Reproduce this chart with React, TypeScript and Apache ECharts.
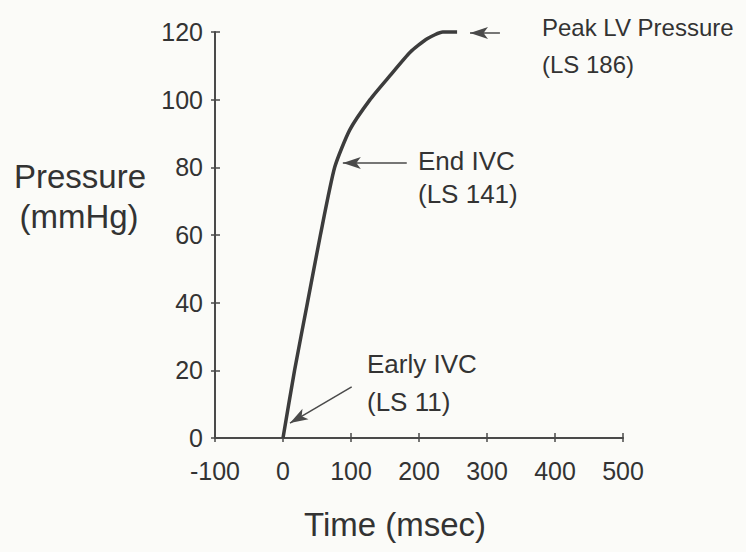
import React, { useEffect, useRef } from "react";
import * as echarts from "echarts";

// Curve: LV pressure (mmHg) vs time (msec)
const timeMs = [0, 17, 36, 55, 76, 98, 128, 157, 187, 212, 235, 256];
const pressure = [0, 20, 40, 60, 80, 91, 100, 107, 114, 118, 120, 120];

const xTicks = { min: -100, max: 500, interval: 100 };
const yTicks = { min: 0, max: 120, interval: 20 };

// Annotation arrows: [from, tip] in data coordinates
const arrowFrom = [[319, 119.7], [182, 81.3], [101, 15.1]];
const arrowTip = [[275, 119.7], [88, 81.3], [10.3, 4.4]];

const annoLines = ["Peak LV Pressure", "(LS 186)", "End IVC", "(LS 141)", "Early IVC", "(LS 11)"];

const FONT = "'Liberation Sans', Arial, Helvetica, sans-serif";
const INK = "#333333";

export default function App() {
  const ref = useRef<HTMLDivElement>(null);
  useEffect(() => {
    if (!ref.current) return;
    const chart = echarts.init(ref.current, null, { renderer: "svg" });
    const axisLine = { show: true, onZero: false, lineStyle: { color: "#4a4a4a", width: 2 } };
    const label = { color: INK, fontSize: 25, fontFamily: FONT };
    const annoPos = [
      [542, 30], [542, 67], [418, 163], [418, 196], [367, 366], [367, 404],
    ];
    chart.setOption({
      animation: false,
      backgroundColor: "#fbfbf8",
      grid: { left: 215, right: 123, top: 32, bottom: 114 },
      xAxis: [
        {
          type: "value", ...xTicks,
          axisLine, splitLine: { show: false },
          axisTick: { show: true, length: 4, lineStyle: { color: "#4a4a4a", width: 1.5 } },
          axisLabel: { ...label, margin: 20 },
        },
        {
          type: "value", ...xTicks, position: "bottom",
          axisLine: { show: false, onZero: false }, splitLine: { show: false },
          axisTick: { show: true, inside: true, length: 5, lineStyle: { color: "#4a4a4a", width: 1.5 } },
          axisLabel: { show: false },
        },
      ],
      yAxis: [
        {
          type: "value", ...yTicks,
          axisLine, splitLine: { show: false },
          axisTick: { show: true, length: 4, lineStyle: { color: "#4a4a4a", width: 1.5 } },
          axisLabel: { ...label, margin: 12 },
        },
        {
          type: "value", ...yTicks, position: "left",
          axisLine: { show: false, onZero: false }, splitLine: { show: false },
          axisTick: { show: true, inside: true, length: 5, lineStyle: { color: "#4a4a4a", width: 1.5 } },
          axisLabel: { show: false },
        },
      ],
      series: [
        {
          type: "line",
          data: timeMs.map((t, i) => [t, pressure[i]]),
          smooth: 0.2,
          showSymbol: false,
          lineStyle: { color: "#3c3c3c", width: 3.5 },
          clip: false,
          markLine: {
            silent: true,
            symbol: ["none", "arrow"],
            symbolSize: [9, 18],
            label: { show: false },
            lineStyle: { color: "#4a4a4a", width: 1.5, type: "solid" },
            itemStyle: { color: "#4a4a4a" },
            data: arrowFrom.map((f, i) => [
              { coord: f },
              { coord: arrowTip[i] },
            ]),
          },
        },
      ],
      graphic: [
        ...annoLines.map((t, i) => ({
          type: "text",
          left: annoPos[i][0],
          top: annoPos[i][1] - 15,
          style: {
            text: t,
            fill: INK,
            font: `${i < 2 ? 24 : 26}px ${FONT}`,
          },
        })),
        {
          type: "text", x: 80, y: 176,
          style: { text: "Pressure", fill: INK, font: `33px ${FONT}`, textAlign: "center", textVerticalAlign: "middle" },
        },
        {
          type: "text", x: 79, y: 216,
          style: { text: "(mmHg)", fill: INK, font: `33px ${FONT}`, textAlign: "center", textVerticalAlign: "middle" },
        },
        {
          type: "text", x: 395, y: 524,
          style: { text: "Time (msec)", fill: INK, font: `33px ${FONT}`, textAlign: "center", textVerticalAlign: "middle" },
        },
      ],
    });
    return () => chart.dispose();
  }, []);
  return (
    <div
      ref={ref}
      style={{ position: "absolute", left: 0, top: 0, width: 746, height: 552 }}
    />
  );
}
